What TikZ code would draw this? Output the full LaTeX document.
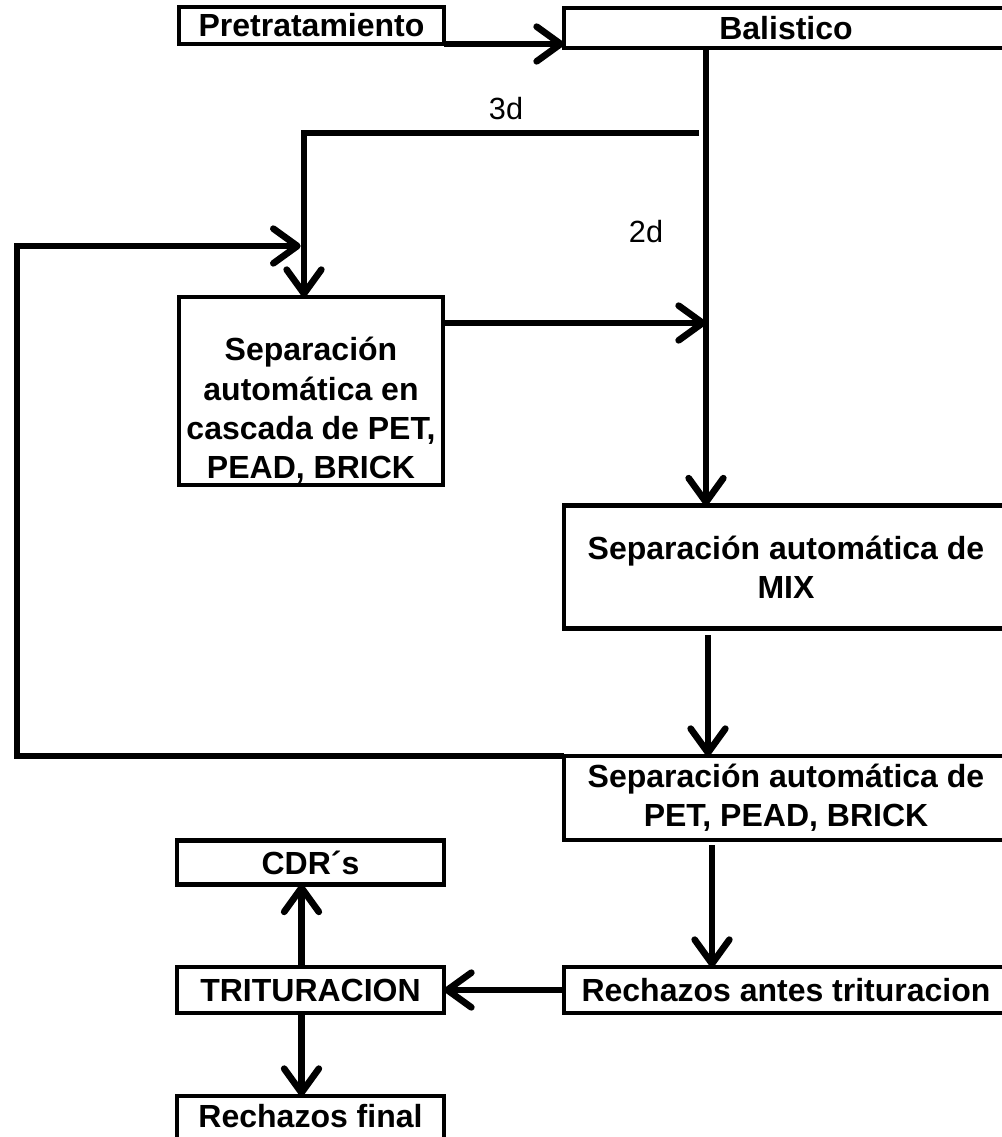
\documentclass[tikz,border=0pt]{standalone}
\usepackage{fontspec}
\setmainfont{Liberation Sans}
\pgfdeclarelayer{background}
\pgfsetlayers{background,main}
\usetikzlibrary{arrows.meta,positioning}
\tikzset{
  stage/.style={draw,line width=3.4pt,fill=white,inner sep=0pt,outer sep=0pt,align=center,
    font=\fontsize{24pt}{29.5pt}\selectfont\bfseries},
  flow/.style={line width=5pt,-{Straight Barb[length=18pt,width=26pt,round]}},
  tag/.style={font=\fontsize{23pt}{27pt}\selectfont}
}
\newcommand{\Stage}[5]% pos, name, width, height, text (sizes in px)
{\node[stage,minimum width=#3*0.75pt,minimum height=#4*0.75pt] (#2) at (#1) {#5};
}
\newcommand{\Flow}[2]%
{ \begin{pgfonlayer}{background}
    \draw[flow] (#1) -- (#2);
  \end{pgfonlayer}}

\begin{document}
\begin{tikzpicture}[x=0.75pt,y=-0.75pt]
  \useasboundingbox (0,0) rectangle (1001,1137);
  \Stage{311.5,25.5}{pre}{265}{37}{Pretratamiento}
  \Stage{786,28}{bal}{444}{40}{Balistico}
  \Stage{311,391}{casc}{264}{188}{\rule{0pt}{47pt}Separación\\automática en\\cascada de PET,\\PEAD, BRICK}
  \Stage{786,567}{mix}{444}{123}{Separación automática de\\MIX}
  \Stage{786,798}{pet}{444}{84}{Separación automática de\\PET, PEAD, BRICK}
  \Stage{786,990}{rech}{444}{46}{Rechazos antes trituracion}
  \Stage{310.5,990}{trit}{267}{46}{TRITURACION}
  \Stage{310.5,862.5}{cdr}{267}{44}{CDR´s}
  \Stage{310.5,1121}{fin}{267}{50}{Rechazos final\rule[-8pt]{0pt}{0pt}}
  % junctions
  \coordinate (m2) at (706,323);
  \coordinate (m3) at (708,700);
  \coordinate (m4) at (712,900);
  \coordinate (t1) at (699,133);
  \coordinate (t2) at (304,133);
  \coordinate (f2) at (17,246);
  \coordinate (c1) at (301.5,930);
  \node[tag] (l3) at (506,109) {3d};
  \node[tag] (l2) at (646,232) {2d};
  \Flow{pre.south east}{bal.west |- pre.south east}
  \Flow{bal.south -| m2}{mix.north -| m2}
  \Flow{casc.east |- m2}{m2}
  \Flow{rech.west}{trit.east}
  \Flow{trit.north -| c1}{cdr.south -| c1}
  \Flow{trit.south -| c1}{fin.north -| c1}
  \begin{pgfonlayer}{background}
    \draw[flow] (t1) -- (t2) -- (casc.north -| t2);
    \draw[flow,shorten >=2.5pt] (pet.north west) -- (pet.north west -| f2) -- (f2) -- (t2 |- f2);
    \draw[flow,shorten <=5pt] (mix.south -| m3) -- (pet.north -| m3);
    \draw[flow,shorten <=4pt] (pet.south -| m4) -- (rech.north -| m4);
  \end{pgfonlayer}
\end{tikzpicture}
\end{document}
